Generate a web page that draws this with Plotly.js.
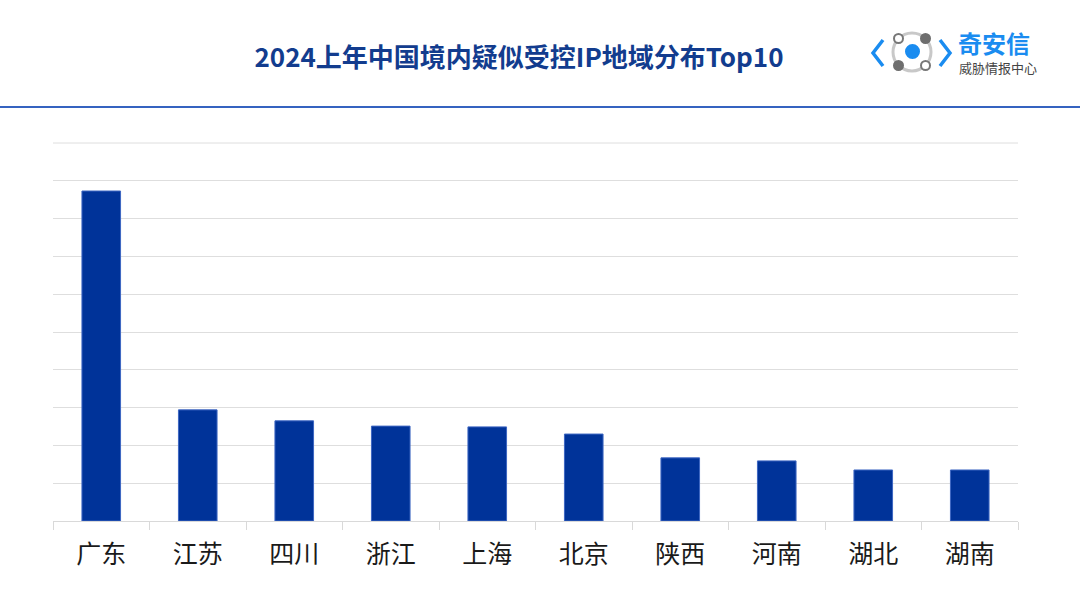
<!DOCTYPE html>
<html><head><meta charset="utf-8">
<script src="https://cdn.plot.ly/plotly-3.0.1.min.js"></script>
<style>html,body{margin:0;padding:0;background:#fff}#chart{width:1080px;height:608px}</style>
</head><body><div id="chart"></div>
<script>
const regions = ['广东','江苏','四川','浙江','上海','北京','陕西','河南','湖北','湖南'];
const values = [8.73, 2.94, 2.65, 2.51, 2.49, 2.30, 1.67, 1.59, 1.35, 1.35];
const chartTitle = '2024上年中国境内疑似受控IP地域分布Top10';
const logoName = '奇安信';
const logoSub = '威胁情报中心';

const L = 53, R = 1018, T = 143, B = 521;
const px = x => (x - L) / (R - L);
const py = y => (B - y) / (B - T);

const shapes = [
  {type:'line', xref:'paper', yref:'paper', x0:px(0), x1:px(1080), y0:py(107), y1:py(107), line:{color:'#3563c0', width:2}},
  {type:'line', xref:'paper', yref:'paper', x0:0, x1:1, y0:1, y1:1, line:{color:'#dedede', width:1}},
  // logo ring
  {type:'circle', xref:'paper', yref:'paper', x0:px(893), x1:px(931), y0:py(33), y1:py(71), line:{color:'#c8c8c8', width:3}},
  // center dot
  {type:'circle', xref:'paper', yref:'paper', x0:px(905), x1:px(920), y0:py(44), y1:py(59), fillcolor:'#1a8cf0', line:{width:0}},
  // corner circles
  {type:'circle', xref:'paper', yref:'paper', x0:px(894), x1:px(903), y0:py(34), y1:py(43), fillcolor:'#ffffff', line:{color:'#777', width:2}},
  {type:'circle', xref:'paper', yref:'paper', x0:px(920), x1:px(931), y0:py(33), y1:py(44), fillcolor:'#6e6e6e', line:{width:0}},
  {type:'circle', xref:'paper', yref:'paper', x0:px(893), x1:px(904), y0:py(60), y1:py(71), fillcolor:'#6e6e6e', line:{width:0}},
  {type:'circle', xref:'paper', yref:'paper', x0:px(921), x1:px(930), y0:py(61), y1:py(70), fillcolor:'#ffffff', line:{color:'#777', width:2}},
  // chevrons
  {type:'path', xref:'paper', yref:'paper', path:`M ${px(883)} ${py(40)} L ${px(873)} ${py(53)} L ${px(883)} ${py(66)}`, line:{color:'#1a8cf0', width:3.5}},
  {type:'path', xref:'paper', yref:'paper', path:`M ${px(940)} ${py(40)} L ${px(950)} ${py(53)} L ${px(940)} ${py(66)}`, line:{color:'#1a8cf0', width:3.5}}
];

const annotations = [
  {xref:'paper', yref:'paper', x:px(957), y:py(43), xanchor:'left', yanchor:'middle', showarrow:false, text:'<b>'+logoName+'</b>', font:{family:'Noto Sans CJK SC', size:24, color:'#1a8cf0'}, borderpad:0},
  {xref:'paper', yref:'paper', x:px(958), y:py(67.5), xanchor:'left', yanchor:'middle', showarrow:false, text:logoSub, font:{family:'Noto Sans CJK SC', size:13, color:'#444'}, borderpad:0}
];

const data = [{
  type:'bar', x:regions, y:values, width:0.4,
  marker:{color:'#003399', line:{color:'#3d66c2', width:1}},
  hoverinfo:'x+y'
}];

const layout = {
  width:1080, height:608,
  margin:{l:L, r:1080-R, t:T, b:608-B},
  paper_bgcolor:'#fff', plot_bgcolor:'#fff',
  showlegend:false,
  title:{text:'<b>'+chartTitle+'</b>', x:519/1080, xanchor:'center', y:1-58/608, yanchor:'middle',
         font:{family:'Noto Sans CJK SC', size:26, color:'#123c8e'}},
  xaxis:{type:'category', tickson:'boundaries', ticks:'outside', ticklen:8, tickcolor:'#d9d9d9', tickwidth:1,
         showline:true, linecolor:'#d9d9d9', linewidth:1, showgrid:false,
         tickfont:{family:'Noto Sans CJK SC', size:25, color:'#1a1a1a'}, ticklabelstandoff:11},
  yaxis:{range:[0,10], dtick:1, showgrid:true, gridcolor:'#dedede', gridwidth:1, showticklabels:false,
         zeroline:false, showline:false, ticks:''},
  shapes, annotations, bargap:0.6
};

Plotly.newPlot('chart', data, layout, {displayModeBar:false, staticPlot:true});
</script></body></html>
